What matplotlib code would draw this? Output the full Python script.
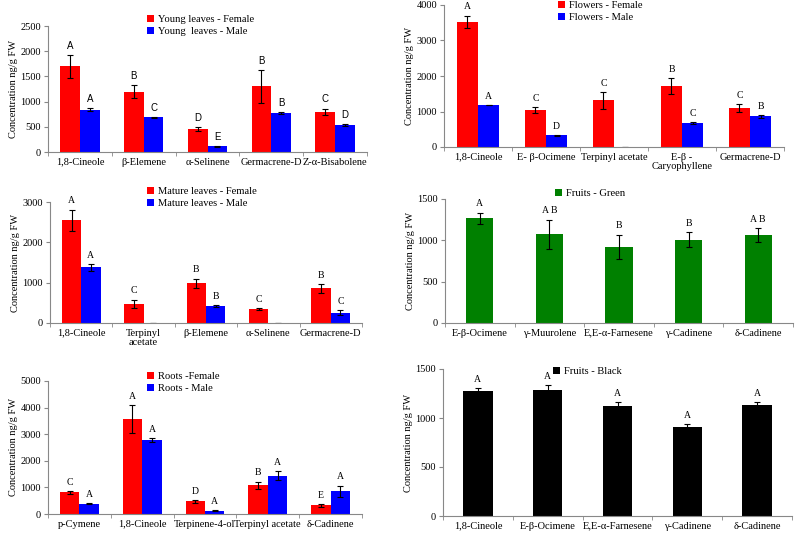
import numpy as np
import matplotlib
matplotlib.use("Agg")
from matplotlib import pyplot as plt
from matplotlib.patches import Patch

plt.rcParams['font.family'] = ['Liberation Serif', 'DejaVu Serif']

# young leaves
yl_cats = ['1,8-Cineole', 'β-Elemene', 'α-Selinene', 'Germacrene-D', 'Z-α-Bisabolene']
yl_f = [1700, 1200, 460, 1300, 800]
yl_f_err = [230, 120, 40, 320, 60]
yl_m = [840, 690, 115, 770, 535]
yl_m_err = [25, 10, 10, 25, 15]
yl_f_let = ['A', 'B', 'D', 'B', 'C']
yl_m_let = ['A', 'C', 'E', 'B', 'D']

# flowers
fl_cats = ['1,8-Cineole', 'E- β-Ocimene', 'Terpinyl acetate', 'E-β -\nCaryophyllene', 'Germacrene-D']
fl_f = [3520, 1040, 1310, 1710, 1100]
fl_f_err = [180, 90, 240, 220, 110]
fl_m = [1180, 325, 0, 680, 870]
fl_m_err = [10, 10, 0, 20, 40]
fl_f_let = ['A', 'C', 'C', 'B', 'C']
fl_m_let = ['A', 'D', '', 'C', 'B']

# mature leaves
ml_cats = ['1,8-Cineole', 'Terpinyl\nacetate', 'β-Elemene', 'α-Selinene', 'Germacrene-D']
ml_f = [2550, 480, 990, 340, 860]
ml_f_err = [260, 100, 110, 30, 110]
ml_m = [1380, 0, 420, 0, 260]
ml_m_err = [90, 0, 15, 0, 50]
ml_f_let = ['A', 'C', 'B', 'C', 'B']
ml_m_let = ['A', '', 'B', '', 'C']

# fruits green
fg_cats = ['E-β-Ocimene', 'γ-Muurolene', 'E,E-α-Farnesene', 'γ-Cadinene', 'δ-Cadinene']
fg = [1265, 1075, 920, 1010, 1065]
fg_err = [70, 175, 150, 90, 80]
fg_let = ['A', 'A B', 'B', 'B', 'A B']

# roots
rt_cats = ['p-Cymene', '1,8-Cineole', 'Terpinene-4-ol', 'Terpinyl acetate', 'δ-Cadinene']
rt_f = [820, 3570, 480, 1080, 320]
rt_f_err = [50, 540, 50, 140, 60]
rt_m = [380, 2780, 130, 1440, 850]
rt_m_err = [15, 60, 15, 170, 220]
rt_f_let = ['C', 'A', 'D', 'B', 'E']
rt_m_let = ['A', 'A', 'A', 'A', 'A']

# fruits black
fb_cats = ['1,8-Cineole', 'E-β-Ocimene', 'E,E-α-Farnesene', 'γ-Cadinene', 'δ-Cadinene']
fb = [1275, 1285, 1125, 905, 1135]
fb_err = [30, 50, 40, 30, 25]
fb_let = ['A', 'A', 'A', 'A', 'A']

RED = '#ff0000'
BLUE = '#0000ff'
GREEN = '#008000'

fig = plt.figure(figsize=(7.95, 5.34), dpi=100)
W, H = 795, 534


def px_axes(l, r, y0, ytop):
    return fig.add_axes([l / W, (H - y0) / H, (r - l) / W, (y0 - ytop) / H])


def style(ax, cats, ymax, step):
    n = len(cats)
    ax.set_xlim(-0.5, n - 0.5)
    ax.set_ylim(0, ymax)
    ax.set_yticks(np.arange(0, ymax + 1, step))
    for s in ['top', 'right']:
        ax.spines[s].set_visible(False)
    for s in ['left', 'bottom']:
        ax.spines[s].set_color('#888888')
        ax.spines[s].set_linewidth(0.8)
    ax.set_xticks(np.arange(n))
    ax.set_xticklabels(cats, fontsize=7.5, linespacing=1.1)
    ax.tick_params(axis='x', length=0, pad=4)
    ax.set_xticks(np.arange(n + 1) - 0.5, minor=True)
    ax.tick_params(axis='x', which='minor', length=3, color='#888888')
    ax.tick_params(axis='y', length=3, color='#888888', labelsize=7.5, pad=2)
    ax.set_ylabel('Concentration ng/g FW', fontsize=7.5, labelpad=2)


def letters(ax, x, vals, errs, labs, fam, fs=7):
    for xi, v, e, t in zip(x, vals, errs, labs):
        if t:
            ax.annotate(t, (xi, v + e), xytext=(0, 3), textcoords='offset points',
                        ha='center', va='bottom', fontsize=fs, family=fam)


def pair(ax, cats, f, fe, m, me, fl, mlab, w, fam):
    x = np.arange(len(cats))
    ekw = dict(ecolor='black', elinewidth=0.8, capsize=2.5, capthick=0.8)
    ax.bar(x - w / 2, f, w, color=RED, yerr=fe, error_kw=ekw)
    mm = np.array(m, dtype=float)
    ax.bar(x + w / 2, mm, w, color=BLUE, yerr=[e if v > 0 else 0 for v, e in zip(m, me)],
           error_kw=ekw)
    letters(ax, x - w / 2, f, fe, fl, fam)
    letters(ax, x + w / 2, m, me, mlab, fam)


def legend(ax, labels, colors, x, y):
    handles = [Patch(facecolor=c, edgecolor='none') for c in colors]
    ax.legend(handles, labels, loc='upper left', bbox_to_anchor=(x / W, 1 - y / H),
              bbox_transform=fig.transFigure, frameon=False, fontsize=7.6,
              handlelength=0.7, handleheight=0.7, handletextpad=0.3,
              labelspacing=0.25, borderpad=0, borderaxespad=0)


sans = ['Liberation Sans', 'DejaVu Sans']
serif = ['Liberation Serif', 'DejaVu Serif']

# panel 1
ax1 = px_axes(48, 367, 152, 26)
pair(ax1, yl_cats, yl_f, yl_f_err, yl_m, yl_m_err, yl_f_let, yl_m_let, 0.31, sans)
style(ax1, yl_cats, 2500, 500)
legend(ax1, ['Young leaves - Female', 'Young  leaves - Male'], [RED, BLUE], 147, 15)

# panel 2
ax2 = px_axes(444, 784, 147, 5)
pair(ax2, fl_cats, fl_f, fl_f_err, fl_m, fl_m_err, fl_f_let, fl_m_let, 0.31, serif)
style(ax2, fl_cats, 4000, 1000)
legend(ax2, ['Flowers - Female', 'Flowers - Male'], [RED, BLUE], 558, 1)

# panel 3
ax3 = px_axes(50, 362, 323, 202)
pair(ax3, ml_cats, ml_f, ml_f_err, ml_m, ml_m_err, ml_f_let, ml_m_let, 0.31, serif)
style(ax3, ml_cats, 3000, 1000)
legend(ax3, ['Mature leaves - Female', 'Mature leaves - Male'], [RED, BLUE], 147, 187)

# panel 4
ax4 = px_axes(445, 793, 323, 199)
x = np.arange(len(fg_cats))
ax4.bar(x, fg, 0.39, color=GREEN, yerr=fg_err,
        error_kw=dict(ecolor='black', elinewidth=0.8, capsize=2.5, capthick=0.8))
letters(ax4, x, fg, fg_err, fg_let, serif)
style(ax4, fg_cats, 1500, 500)
legend(ax4, ['Fruits - Green'], [GREEN], 555, 189)

# panel 5
ax5 = px_axes(48, 362, 514, 381)
pair(ax5, rt_cats, rt_f, rt_f_err, rt_m, rt_m_err, rt_f_let, rt_m_let, 0.31, serif)
style(ax5, rt_cats, 5000, 1000)
legend(ax5, ['Roots -Female', 'Roots - Male'], [RED, BLUE], 147, 372)

# panel 6
ax6 = px_axes(443, 792, 516, 369)
x = np.arange(len(fb_cats))
ax6.bar(x, fb, 0.42, color='black', yerr=fb_err,
        error_kw=dict(ecolor='black', elinewidth=0.8, capsize=2.5, capthick=0.8))
letters(ax6, x, fb, fb_err, fb_let, serif)
style(ax6, fb_cats, 1500, 500)
legend(ax6, ['Fruits - Black'], ['black'], 553, 367)

fig.savefig('out.png', dpi=100)
